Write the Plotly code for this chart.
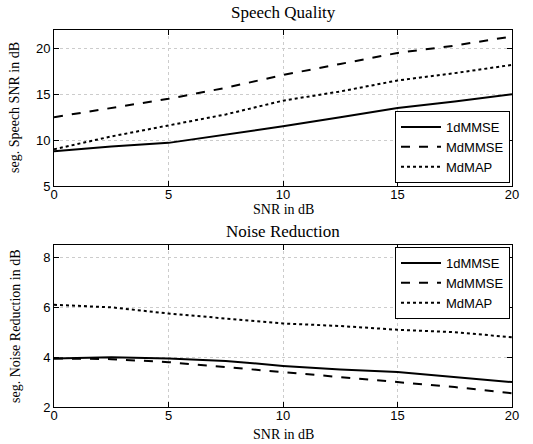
import plotly.graph_objects as go
from plotly.subplots import make_subplots

snr = [0, 2.5, 5, 7.5, 10, 12.5, 15, 17.5, 20]
series_names = ["1dMMSE", "MdMMSE", "MdMAP"]

# Speech quality (seg. speech SNR in dB)
sq_1dmmse = [8.8, 9.3, 9.7, 10.6, 11.5, 12.5, 13.5, 14.2, 15.0]
sq_mdmmse = [12.5, 13.5, 14.5, 15.7, 17.1, 18.3, 19.5, 20.3, 21.3]
sq_mdmap = [9.0, 10.4, 11.6, 12.8, 14.3, 15.3, 16.5, 17.3, 18.2]

# Noise reduction (seg. noise reduction in dB)
nr_1dmmse = [3.95, 4.0, 3.95, 3.85, 3.65, 3.5, 3.4, 3.2, 3.0]
nr_mdmmse = [3.95, 3.92, 3.8, 3.6, 3.4, 3.2, 3.0, 2.8, 2.55]
nr_mdmap = [6.1, 6.0, 5.75, 5.55, 5.35, 5.25, 5.1, 5.0, 4.8]

x_ticks = [0, 5, 10, 15, 20]
sq_ticks = [5, 10, 15, 20]
nr_ticks = [2, 4, 6, 8]

dashes = ["solid", "dash", "dot"]

fig = make_subplots(rows=2, cols=1)

for name, vals, d in zip(series_names, [sq_1dmmse, sq_mdmmse, sq_mdmap], dashes):
    fig.add_trace(go.Scatter(x=snr, y=vals, mode="lines", name=name,
                             line=dict(color="black", width=2, dash=d),
                             legend="legend"), row=1, col=1)
for name, vals, d in zip(series_names, [nr_1dmmse, nr_mdmmse, nr_mdmap], dashes):
    fig.add_trace(go.Scatter(x=snr, y=vals, mode="lines", name=name,
                             line=dict(color="black", width=2, dash=d),
                             legend="legend2"), row=2, col=1)

H = 444
W = 533
L, R, T, B = 54, 21, 30, 37
ph = H - T - B
pw = W - L - R

def yf(py):
    return (H - B - py) / ph

def xf(px):
    return (px - L) / pw

axis_common = dict(showline=True, linecolor="black", linewidth=1, mirror="ticks",
                   ticks="inside", ticklen=5, tickcolor="black",
                   showgrid=True, gridcolor="#cccccc", griddash="dot", gridwidth=1,
                   zeroline=False,
                   tickfont=dict(family="Liberation Sans, Arial", size=13, color="black"))

fig.update_xaxes(**axis_common, range=[0, 20], tickvals=x_ticks, ticklabelstandoff=-4)
fig.update_yaxes(**axis_common)
fig.update_yaxes(range=[5, 22], tickvals=sq_ticks, domain=[yf(186), 1], row=1, col=1)
fig.update_yaxes(range=[2, 8.5], tickvals=nr_ticks, domain=[0, yf(245)], row=2, col=1)

serif = "Liberation Serif, Times New Roman"
annos = [
    dict(text="Speech Quality", x=0.5, y=yf(13), font=dict(family=serif, size=17, color="black")),
    dict(text="SNR in dB", x=0.5, y=yf(209), font=dict(family=serif, size=14, color="black")),
    dict(text="Noise Reduction", x=0.5, y=yf(231), font=dict(family=serif, size=17, color="black")),
    dict(text="SNR in dB", x=0.5, y=yf(434), font=dict(family=serif, size=14, color="black")),
    dict(text="seg. Speech SNR in dB", x=xf(15), y=yf(108), textangle=-90,
         font=dict(family=serif, size=14, color="black")),
    dict(text="seg. Noise Reduction in dB", x=xf(15), y=yf(326), textangle=-90,
         font=dict(family=serif, size=14, color="black")),
]
for a in annos:
    fig.add_annotation(xref="paper", yref="paper", showarrow=False,
                       xanchor="center", yanchor="middle", **a)

legend_common = dict(bgcolor="white", bordercolor="black", borderwidth=1,
                     font=dict(family="Liberation Sans, Arial", size=13, color="black"),
                     xanchor="right", x=xf(510), tracegroupgap=0, itemwidth=40)

fig.update_layout(
    width=W, height=H,
    margin=dict(l=L, r=R, t=T, b=B),
    plot_bgcolor="white", paper_bgcolor="white",
    font=dict(color="black"),
    legend=dict(**legend_common, yanchor="bottom", y=yf(183)),
    legend2=dict(**legend_common, yanchor="top", y=yf(247)),
)

fig.write_html("out.html", config={"displayModeBar": False},
               post_script="document.body.style.margin='0';document.body.style.overflow='hidden';")
